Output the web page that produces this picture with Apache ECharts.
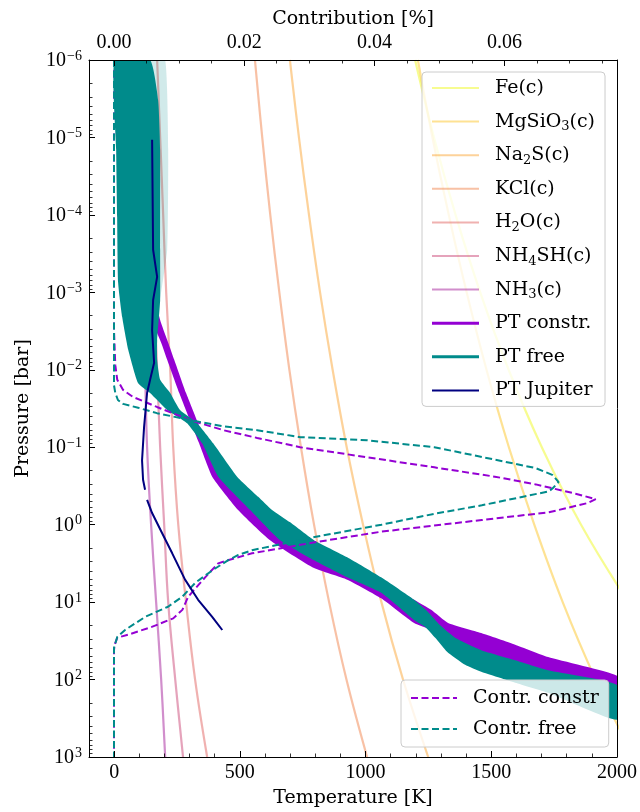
<!DOCTYPE html>
<html>
<head>
<meta charset="utf-8">
<script src="https://cdn.jsdelivr.net/npm/echarts@6.0.0/dist/echarts.min.js"></script>
<style>
html,body{margin:0;padding:0;background:#ffffff;}
#chart{width:640px;height:812px;}
</style>
</head>
<body>
<div id="chart"></div>
<script>
// ---------------- data (T in K, pressure as log10(P/bar)) ----------------
const condLogP = [-6,-5,-4,-3,-2,-1,0,1,2,3];
const feT     = [1197,1272,1358,1456,1569,1701,1857,2045];
const mgsio3T = [1208,1266,1331,1402,1481,1570,1671,1784,1915,2066];
const na2sT   = [699,735,775,819,869,925,990,1063,1149,1249];
const kclT    = [560,589,621,657,697,743,795,855,924,1006];
const h2oT    = [171,183,195,207,223,235,255,286,322,370];
const nh4shT  = [127,139,151,159,171,183,199,215,243,274];
const nh3T    = [91,99,107,115,123,131,147,167,187,203];

const condNames  = ['Fe(c)','MgSiO3(c)','Na2S(c)','KCl(c)','H2O(c)','NH4SH(c)','NH3(c)'];
const condLabels = ['Fe(c)','MgSiO{sub|3}(c)','Na{sub|2}S(c)','KCl(c)','H{sub|2}O(c)','NH{sub|4}SH(c)','NH{sub|3}(c)'];

// PT free (retrieved band) : two edges [T, log10 P]
const freeEdgeA = [[143,-6],[175,-5.48],[183,-4.84],[183,-3.55],[183,-2.90],[171,-2.38],[171,-2.13],[183,-1.87],[223,-1.70],[262,-1.48],[330,-1.31],[394,-1.05],[489,-0.62],[573,-0.36],[628,-0.19],[700,-0.03],[795,0.20],[927,0.42],[1062,0.68],[1193,0.97],[1249,1.13],[1297,1.30],[1356,1.46],[1460,1.62],[1595,1.75],[1726,1.88],[2000,2.07]];
const freeEdgeB = [[2,-6],[8,-4.84],[12,-3.97],[16,-3.12],[32,-2.68],[56,-2.26],[95,-1.83],[143,-1.70],[211,-1.48],[290,-1.31],[350,-1.05],[414,-0.62],[541,-0.19],[660,0.20],[795,0.46],[927,0.68],[1062,0.88],[1193,1.23],[1237,1.32],[1277,1.46],[1324,1.64],[1396,1.81],[1460,1.90],[1595,2.04],[1726,2.17],[2000,2.52]];
const freeSpreadA = [[203,-6],[215,-4.84],[211,-3.55],[183,-2.90],[171,-2.38]];
const freeSpreadB = [[143,-6],[183,-4.84],[183,-3.55],[183,-2.90],[171,-2.38]];

// PT constrained band
const constrEdgeA = [[135,-6],[143,-4.84],[151,-3.55],[163,-2.90],[187,-2.60],[215,-2.35],[239,-2.13],[286,-1.70],[334,-1.31],[366,-1.05],[426,-0.62],[541,-0.25],[660,0.04],[795,0.30],[927,0.50],[1062,0.71],[1193,0.97],[1261,1.10],[1328,1.27],[1460,1.40],[1595,1.55],[1726,1.71],[2000,1.95]];
const constrEdgeB = [[84,-6],[95,-4.84],[103,-3.55],[123,-2.90],[155,-2.60],[187,-2.35],[211,-2.13],[259,-1.70],[306,-1.31],[338,-1.05],[390,-0.62],[493,-0.19],[620,0.20],[795,0.56],[927,0.71],[1062,0.95],[1193,1.27],[1261,1.36],[1328,1.49],[1460,1.66],[1595,1.79],[1726,1.92],[2000,2.14]];

// Jupiter profile (two segments)
const jupiterUpper = [[151,-4.97],[155,-3.55],[171,-3.20],[155,-2.90],[151,-2.51],[159,-2.09],[143,-1.87],[131,-1.70],[119,-1.26],[111,-0.83],[115,-0.58],[123,-0.45]];
const jupiterLower = [[131,-0.32],[151,-0.15],[191,0.11],[231,0.37],[282,0.71],[334,0.97],[390,1.19],[430,1.36]];

// Contribution functions [%, log10 P]
const contrConstr = [[0,-6],[0,-2.51],[0.0002,-2.06],[0.0005,-1.87],[0.0014,-1.74],[0.0029,-1.65],[0.0066,-1.52],[0.0117,-1.35],[0.0168,-1.22],[0.0220,-1.12],[0.0286,-1.00],[0.0389,-0.87],[0.0492,-0.74],[0.0585,-0.62],[0.0648,-0.52],[0.0709,-0.40],[0.0740,-0.33],[0.0728,-0.28],[0.0668,-0.16],[0.0565,-0.06],[0.0411,0.09],[0.0314,0.22],[0.0212,0.37],[0.0175,0.46],[0.0160,0.50],[0.0140,0.68],[0.0114,0.93],[0.0105,1.10],[0.0091,1.21],[0.0058,1.32],[0.0022,1.42],[0.0005,1.46],[0.0001,1.55],[0,1.62],[0,3]];
const contrFree = [[0,-6],[0,-1.80],[0.0002,-1.70],[0.0006,-1.61],[0.0014,-1.56],[0.0037,-1.51],[0.0066,-1.44],[0.0117,-1.35],[0.0168,-1.27],[0.0220,-1.22],[0.0271,-1.15],[0.0286,-1.13],[0.0389,-1.09],[0.0492,-1.00],[0.0585,-0.84],[0.0648,-0.73],[0.0674,-0.64],[0.0683,-0.55],[0.0674,-0.47],[0.0668,-0.43],[0.0565,-0.25],[0.0492,-0.14],[0.0411,0.00],[0.0308,0.16],[0.0263,0.24],[0.0212,0.33],[0.0191,0.39],[0.0175,0.46],[0.0151,0.59],[0.0125,0.75],[0.0105,0.93],[0.0083,1.06],[0.0048,1.19],[0.0017,1.36],[0.0005,1.45],[0,1.59],[0,3]];

// tick values
const tempTicks = [0,500,1000,1500,2000];
const tempMinor = [100,200,300,400,600,700,800,900,1100,1200,1300,1400,1600,1700,1800,1900];
const contrTicks = [0,0.02,0.04,0.06];
const contrMinor = [0.005,0.01,0.015,0.025,0.03,0.035,0.045,0.05,0.055,0.065,0.07,0.075];
const presTicks = [1e-6,1e-5,1e-4,1e-3,1e-2,1e-1,1,10,100,1000];
const presTickExp = [-6,-5,-4,-3,-2,-1,0,1,2,3];
const presMinorExp = [];
for (let e = -6; e < 3; e++) for (let k = 2; k < 10; k++) presMinorExp.push(e + Math.log10(k));

// ---------------- chart ----------------
const NUM = 'Liberation Serif';
const TXT = 'DejaVu Serif';
const P = lp => Math.pow(10, lp);
const toPts = arr => arr.map(d => [d[0], P(d[1])]);
const condColors = ['#f0f921','#fdc527','#fca636','#f2844b','#e16462','#cc4778','#a31e9a'];
const condTs = [feT, mgsio3T, na2sT, kclT, h2oT, nh4shT, nh3T];

const series = [];
condTs.forEach((arr, i) => {
  series.push({
    type: 'line', name: condNames[i], xAxisIndex: 0, yAxisIndex: 0,
    data: arr.map((t, j) => [t, P(condLogP[j])]),
    symbol: 'none', smooth: 0.4, clip: true, z: 2, silent: true,
    lineStyle: { color: condColors[i], width: 2.2, opacity: 0.5 },
    itemStyle: { color: condColors[i], opacity: 0.5 }
  });
});

function band(name, a, b, color, opacity, z) {
  return {
    type: 'custom', name: name, xAxisIndex: 0, yAxisIndex: 0, clip: true, z: z, silent: true,
    itemStyle: { color: color },
    data: [[a[0][0], P(a[0][1])]],
    renderItem: function (params, api) {
      const poly = a.concat(b.slice().reverse()).map(d => api.coord([d[0], P(d[1])]));
      return { type: 'polygon', shape: { points: poly, smooth: 0.15 }, style: { fill: color, opacity: opacity } };
    }
  };
}
series.push(band('PT constr.', constrEdgeA, constrEdgeB, '#9400d3', 1, 3));
series.push(band('spread', freeSpreadA, freeSpreadB, '#008b8b', 0.18, 3));
series.push(band('PT free', freeEdgeA, freeEdgeB, '#008b8b', 1, 4));

series.push({
  type: 'line', name: 'Contr. constr', xAxisIndex: 2, yAxisIndex: 0, data: toPts(contrConstr),
  symbol: 'none', clip: true, z: 5, silent: true,
  lineStyle: { color: '#9400d3', width: 2, type: [7, 3.5] }, itemStyle: { color: '#9400d3' }
});
series.push({
  type: 'line', name: 'Contr. free', xAxisIndex: 2, yAxisIndex: 0, data: toPts(contrFree),
  symbol: 'none', clip: true, z: 5, silent: true,
  lineStyle: { color: '#008b8b', width: 2, type: [7, 3.5] }, itemStyle: { color: '#008b8b' }
});
[jupiterUpper, jupiterLower].forEach(seg => series.push({
  type: 'line', name: 'PT Jupiter', xAxisIndex: 0, yAxisIndex: 0, data: toPts(seg),
  symbol: 'none', clip: true, z: 6, silent: true,
  lineStyle: { color: '#000080', width: 2 }, itemStyle: { color: '#000080' }
}));

const tickLabel = { fontFamily: NUM, fontSize: 20, color: '#000' };
const nameStyle = { fontFamily: TXT, fontSize: 19, color: '#000' };
const majorTick = (vals) => ({ show: true, inside: true, length: 6, customValues: vals, lineStyle: { color: '#000', width: 1 } });
const minorTickAx = (vals) => ({ show: true, inside: true, length: 3.5, customValues: vals, lineStyle: { color: '#000', width: 0.8 } });
const hiddenLine = { show: false, onZero: false };
const tickOnlyY = (vals, major) => ({
  type: 'value', min: -6, max: 3, inverse: true, position: 'left', z: 10,
  axisLine: hiddenLine, axisTick: major ? majorTick(vals) : minorTickAx(vals),
  axisLabel: { show: false }, splitLine: { show: false }
});

const legendLabel = {};
condNames.forEach((n, i) => legendLabel[n] = condLabels[i]);

const legendText = {
  fontFamily: TXT, fontSize: 19, color: '#000', lineHeight: 24, padding: [0, 0, 0, 11],
  rich: { sub: { fontFamily: TXT, fontSize: 13, lineHeight: 13, verticalAlign: 'bottom', color: '#000' } }
};
const bandIcon = (n, c) => ({ name: n, icon: 'rect', itemStyle: { color: c, opacity: 1 } });

const option = {
  animation: false,
  backgroundColor: '#ffffff',
  grid: { left: 89, right: 23, top: 60, bottom: 55, containLabel: false, outerBoundsMode: 'none', show: false },
  xAxis: [
    { type: 'value', position: 'bottom', min: -100, max: 2000, z: 10,
      axisLine: { show: true, onZero: false, lineStyle: { color: '#000', width: 1 } },
      axisTick: majorTick(tempTicks),
      axisLabel: Object.assign({ customValues: tempTicks, margin: 6, formatter: v => String(v) }, tickLabel),
      splitLine: { show: false },
      name: 'Temperature [K]', nameLocation: 'middle', nameGap: 32, nameTextStyle: nameStyle },
    { type: 'value', position: 'bottom', min: -100, max: 2000, z: 10,
      axisLine: hiddenLine, axisTick: minorTickAx(tempMinor),
      axisLabel: { show: false }, splitLine: { show: false } },
    { type: 'value', position: 'top', min: -0.00384, max: 0.07727, z: 10,
      axisLine: { show: true, onZero: false, lineStyle: { color: '#000', width: 1 } },
      axisTick: majorTick(contrTicks),
      axisLabel: Object.assign({ customValues: contrTicks, margin: 7, formatter: v => v.toFixed(2) }, tickLabel),
      splitLine: { show: false },
      name: 'Contribution [%]', nameLocation: 'middle', nameGap: 27, nameTextStyle: nameStyle },
    { type: 'value', position: 'top', min: -0.00384, max: 0.07727, z: 10,
      axisLine: hiddenLine, axisTick: minorTickAx(contrMinor),
      axisLabel: { show: false }, splitLine: { show: false } }
  ],
  yAxis: [
    { type: 'log', logBase: 10, min: 1e-6, max: 1e3, inverse: true, position: 'left', z: 10,
      axisLine: { show: true, onZero: false, lineStyle: { color: '#000', width: 1 } },
      axisTick: { show: false },
      axisLabel: {
        customValues: presTicks, margin: 7, color: '#000',
        formatter: v => { const e = Math.round(Math.log10(v)); return '{b|10}{sup|' + (e < 0 ? '\u2212' + (-e) : e) + '}'; },
        rich: {
          b: { fontFamily: NUM, fontSize: 20, lineHeight: 22, verticalAlign: 'bottom', color: '#000' },
          sup: { fontFamily: NUM, fontSize: 14, lineHeight: 14, padding: [0, 0, 11, 1], verticalAlign: 'top', color: '#000' }
        }
      },
      splitLine: { show: false },
      name: 'Pressure [bar]', nameLocation: 'middle', nameGap: 56, nameRotate: 90, nameTextStyle: nameStyle },
    tickOnlyY(presTickExp, true),
    tickOnlyY(presMinorExp, false),
    { type: 'value', min: -6, max: 3, inverse: true, position: 'right', z: 10,
      axisLine: { show: true, onZero: false, lineStyle: { color: '#000', width: 1 } },
      axisTick: { show: false }, axisLabel: { show: false }, splitLine: { show: false } }
  ],
  legend: [
    {
      orient: 'vertical', left: 422, top: 72, padding: [4, 10, 4, 9], itemGap: 9.6,
      itemWidth: 47, itemHeight: 3, selectedMode: false, z: 20,
      itemStyle: { opacity: 0 },
      backgroundColor: 'rgba(255,255,255,0.8)', borderColor: '#cccccc', borderWidth: 1, borderRadius: 4,
      data: condNames.map(n => ({ name: n }))
        .concat([bandIcon('PT constr.', '#9400d3'), bandIcon('PT free', '#008b8b'), { name: 'PT Jupiter' }]),
      formatter: n => legendLabel[n] || n,
      textStyle: legendText
    },
    {
      orient: 'vertical', left: 401, top: 680, padding: [6, 10, 6, 9], itemGap: 7,
      itemWidth: 46, itemHeight: 3, selectedMode: false, z: 20,
      itemStyle: { opacity: 0 },
      backgroundColor: 'rgba(255,255,255,0.8)', borderColor: '#cccccc', borderWidth: 1, borderRadius: 4,
      data: [{ name: 'Contr. constr' }, { name: 'Contr. free' }],
      textStyle: legendText
    }
  ],
  series: series
};

const chart = echarts.init(document.getElementById('chart'), null, { renderer: 'canvas', width: 640, height: 812 });
chart.setOption(option);
</script>
</body>
</html>
